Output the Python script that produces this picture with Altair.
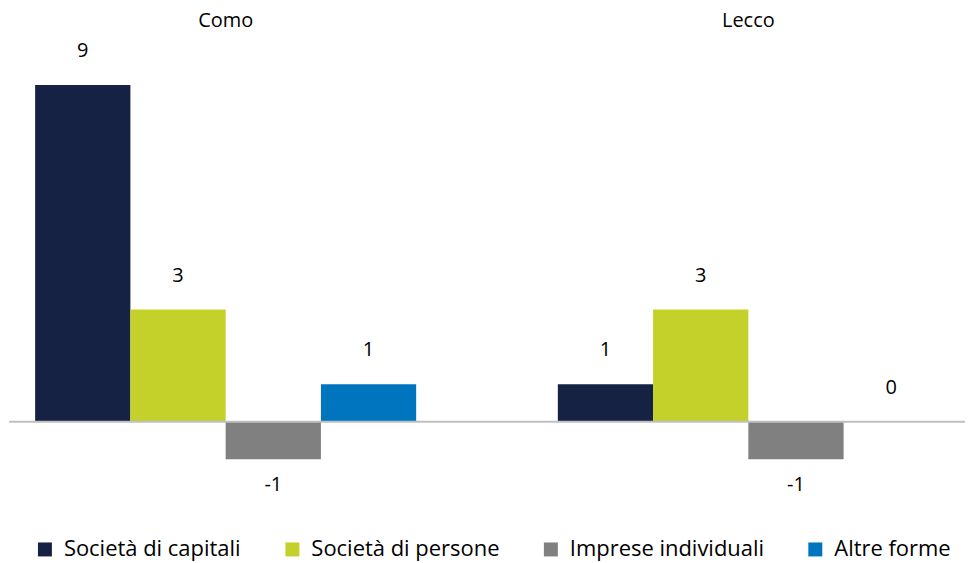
import altair as alt
import pandas as pd

provinces = ["Como", "Lecco"]
series = ["Società di capitali", "Società di persone", "Imprese individuali", "Altre forme"]
como_values = [9, 3, -1, 1]
lecco_values = [1, 3, -1, 0]
colors = ["#152244", "#C5D12B", "#808080", "#0075BF"]

rows = []
for prov, vals in zip(provinces, [como_values, lecco_values]):
    for s, v in zip(series, vals):
        rows.append({"provincia": prov, "serie": s, "valore": v, "label": str(v)})
df = pd.DataFrame(rows)

FONT = "Open Sans"

x_enc = alt.X("provincia:N", sort=provinces,
              scale=alt.Scale(paddingInner=0.271, paddingOuter=0.05),
              axis=alt.Axis(orient="top", title=None, ticks=False, domain=False,
                            labelAngle=0, labelFontSize=20, labelFont=FONT,
                            labelColor="#000000", labelPadding=17))
xoff = alt.XOffset("serie:N", sort=series, scale=alt.Scale(paddingInner=0, paddingOuter=0))
y_enc = alt.Y("valore:Q", scale=alt.Scale(domain=[-1.6, 10], nice=False, zero=True), axis=None)

base = alt.Chart(df)

bars = base.mark_bar(stroke=None).encode(
    x=x_enc, xOffset=xoff, y=y_enc,
    color=alt.Color("serie:N", sort=series,
                    scale=alt.Scale(domain=series, range=colors),
                    legend=alt.Legend(title=None, orient="none", legendX=25, legendY=492,
                                      direction="horizontal", columns=4,
                                      symbolType="square", symbolSize=196,
                                      symbolStrokeWidth=0, labelLimit=0,
                                      labelFontSize=22, labelFont=FONT,
                                      labelColor="#000000", labelOffset=8,
                                      columnPadding=40)),
)

zero_line = alt.Chart(pd.DataFrame({"z": [0]})).mark_rule(color="#BFBFBF", strokeWidth=2).encode(
    y=alt.Y("z:Q", scale=alt.Scale(domain=[-1.6, 10], nice=False), axis=None)
)

pos_labels = base.transform_filter(alt.datum.valore >= 0).mark_text(
    fontSize=20, font=FONT, color="#000000", dy=-34, baseline="middle"
).encode(x=x_enc, xOffset=xoff, y=y_enc, text="label:N")

neg_labels = base.transform_filter(alt.datum.valore < 0).mark_text(
    fontSize=20, font=FONT, color="#000000", dy=26, baseline="middle"
).encode(x=x_enc, xOffset=xoff, y=y_enc, text="label:N")

chart = alt.layer(bars, zero_line, pos_labels, neg_labels).properties(
    width=958, height=435, padding={"top": 2, "left": 0, "right": 0, "bottom": 0},
    background="#FFFFFF"
).configure_view(strokeWidth=0, stroke=None)

chart.save("out.html", embed_options={"renderer": "svg", "actions": False})
